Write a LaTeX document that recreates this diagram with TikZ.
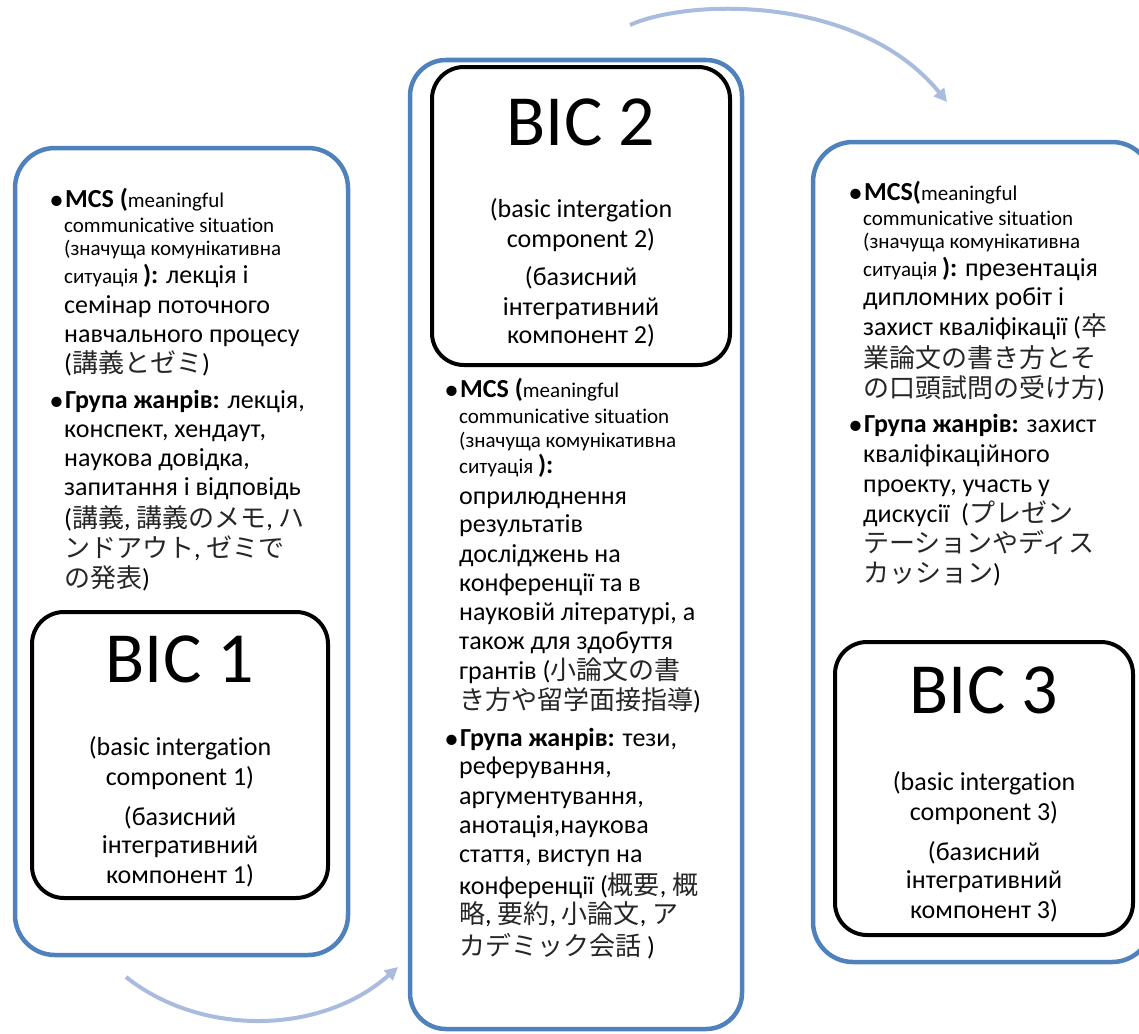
\documentclass[tikz,border=0pt]{standalone}
\usepackage{fontspec}
\setmainfont{Carlito}[Ligatures=NoCommon]
\newfontfamily\jpfont{Noto Sans CJK JP}
\usetikzlibrary{arrows.meta}
\definecolor{boxblue}{HTML}{4F81BD}
\definecolor{arrowblue}{HTML}{A9BCDE}
\definecolor{jpgray}{HTML}{262626}
\newcommand\J[1]{{\jpfont\color{jpgray}#1}}
\newcommand\smtxt{\fontsize{21}{25}\selectfont}
\newcommand\bul{\makebox[0pt][r]{\raisebox{-2pt}{\fontsize{29}{29}\selectfont •}\hspace{1.5pt}}}
\begin{document}
\begin{tikzpicture}[x=1pt,y=-1pt,
 outer/.style={draw=boxblue, line width=4.5pt, rounded corners=40pt, inner sep=0pt},
 innerbox/.style={draw=black, line width=4pt, rounded corners=32pt, fill=white, inner sep=0pt},
 ln/.style={anchor=base west, inner sep=0pt, font=\fontsize{26}{30}\selectfont},
 ctr/.style={anchor=base, inner sep=0pt, font=\fontsize{26}{30}\selectfont},
 big/.style={anchor=base, inner sep=0pt, font=\fontsize{72}{80}\selectfont},
 flow/.style={draw=arrowblue, line width=4pt, -{Triangle[length=13pt,width=13pt]}}
]
\useasboundingbox (0,0) rectangle (1139,1033);
\clip (0,0) rectangle (1139,1033);

% outer blue boxes
\node[outer, minimum width=333pt, minimum height=807pt] (box1) at (181.5,551.5) {};
\node[outer, minimum width=332pt, minimum height=969pt, rounded corners=36pt] (box2) at (576,544.5) {};
\node[outer, minimum width=339pt, minimum height=820pt] (box3) at (982.5,552) {};

% inner black boxes
\node[innerbox, minimum width=296pt, minimum height=286pt] (bic1) at (180,755) {};
\node[innerbox, minimum width=298pt, minimum height=298pt] (bic2) at (581,216) {};
\node[innerbox, minimum width=298pt, minimum height=293pt] (bic3) at (984,788.5) {};

% arrows
\coordinate (a1s) at (630,25);
\coordinate (a1e) at (947,102);
\coordinate (a2s) at (126,977);
\coordinate (a2e) at (398,967);
\draw[flow] (a1s) .. controls (690,-2) and (860,-5) .. (a1e);
\draw[flow] (a2s) .. controls (200,1036) and (320,1036) .. (a2e);

% BIC 1
\node[big] (b1t) at (180,682) {BIC 1};
\node[ctr] (b1a) at (180,755) {(basic intergation};
\node[ctr] (b1b) at (180,785) {component 1)};
\node[ctr] (b1c) at (180,825) {(базисний};
\node[ctr] (b1d) at (180,853) {інтегративний};
\node[ctr] (b1e) at (180,883) {компонент 1)};

% BIC 2
\node[big] (b2t) at (581,145) {BIC 2};
\node[ctr] (b2a) at (581,217) {(basic intergation};
\node[ctr] (b2b) at (581,247) {component 2)};
\node[ctr] (b2c) at (581,285) {(базисний};
\node[ctr] (b2d) at (581,315) {інтегративний};
\node[ctr] (b2e) at (581,343) {компонент 2)};

% BIC 3
\node[big] (b3t) at (984,713) {BIC 3};
\node[ctr] (b3a) at (984,790) {(basic intergation};
\node[ctr] (b3b) at (984,820) {component 3)};
\node[ctr] (b3c) at (984,860) {(базисний};
\node[ctr] (b3d) at (984,888) {інтегративний};
\node[ctr] (b3e) at (984,918) {компонент 3)};

% left column text
\node[ln] (l1) at (65,207) {\bul\textbf{MCS (}{\smtxt meaningful}};
\node[ln] (l2) at (64,232) {\smtxt communicative situation};
\node[ln] (l3) at (64,255) {\smtxt (значуща комунікативна};
\node[ln] (l4) at (64,283) {{\smtxt ситуація }\textbf{):} лекція і};
\node[ln] (l5) at (64,313) {семінар поточного};
\node[ln] (l6) at (64,342) {навчального процесу};
\node[ln] (l7) at (64,372) {(\J{講義とゼミ})};
\node[ln] (l8) at (65,408) {\bul\textbf{Група жанрів:} лекція,};
\node[ln] (l9) at (64,437) {конспект, хендаут,};
\node[ln] (l10) at (64,466) {наукова довідка,};
\node[ln] (l11) at (64,495) {запитання і відповідь};
\node[ln] (l12) at (64,527) {(\J{講義}, \J{講義のメモ}, \J{ハ}};
\node[ln] (l13) at (64,557) {\J{ンドアウト}, \J{ゼミで}};
\node[ln] (l14) at (64,587) {\J{の発表})};

% middle column text
\node[ln] (m1) at (460,397) {\bul\textbf{MCS (}{\smtxt meaningful}};
\node[ln] (m2) at (459,423) {\smtxt communicative situation};
\node[ln] (m3) at (459,447) {\smtxt (значуща комунікативна};
\node[ln] (m4) at (459,473) {{\smtxt ситуація }\textbf{):}};
\node[ln] (m5) at (459,504) {оприлюднення};
\node[ln] (m6) at (459,532) {результатів};
\node[ln] (m7) at (459,562) {досліджень на};
\node[ln] (m8) at (459,591) {конференції та в};
\node[ln] (m9) at (459,620) {науковій літературі, а};
\node[ln] (m10) at (459,649) {також для здобуття};
\node[ln] (m11) at (459,679) {грантів (\J{小論文の書}};
\node[ln] (m12) at (459,709) {\J{き方や留学面接指導})};
\node[ln] (m13) at (460,746) {\bul\textbf{Група жанрів:} тези,};
\node[ln] (m14) at (459,774) {реферування,};
\node[ln] (m15) at (459,804) {аргументування,};
\node[ln] (m16) at (459,833) {анотація,наукова};
\node[ln] (m17) at (459,862) {стаття, виступ на};
\node[ln] (m18) at (459,894) {конференції (\J{概要}, \J{概}};
\node[ln] (m19) at (459,923) {\J{略}, \J{要約}, \J{小論文}, \J{ア}};
\node[ln] (m20) at (459,955) {\J{カデミック会話} )};

% right column text
\node[ln] (r1) at (864,200) {\bul\textbf{MCS(}{\smtxt meaningful}};
\node[ln] (r2) at (863,225) {\smtxt communicative situation};
\node[ln] (r3) at (863,248) {\smtxt (значуща комунікативна};
\node[ln] (r4) at (863,276) {{\smtxt ситуація }\textbf{):} презентація};
\node[ln] (r5) at (863,305) {дипломних робіт і};
\node[ln] (r6) at (863,335) {захист кваліфікації (\J{卒}};
\node[ln] (r7) at (863,367) {\J{業論文の書き方とそ}};
\node[ln] (r8) at (863,397) {\J{の口頭試問の受け方})};
\node[ln] (r9) at (864,432) {\bul\textbf{Група жанрів:} захист};
\node[ln] (r10) at (863,462) {кваліфікаційного};
\node[ln] (r11) at (863,492) {проекту, участь у};
\node[ln] (r12) at (863,522) {дискусії\ \ (\J{プレゼン}};
\node[ln] (r13) at (863,552) {\J{テーションやディス}};
\node[ln] (r14) at (863,582) {\J{カッション})};
\end{tikzpicture}
\end{document}
